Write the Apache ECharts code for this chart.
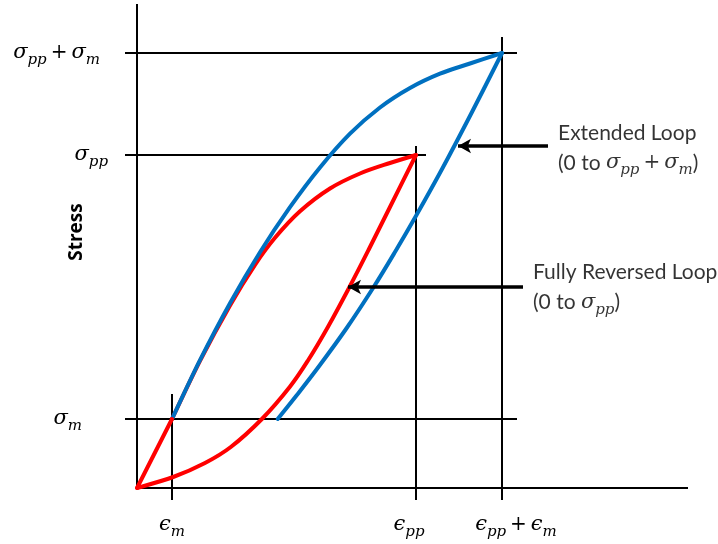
<!DOCTYPE html>
<html>
<head>
<meta charset="utf-8">
<script src="https://cdn.jsdelivr.net/npm/echarts@6/dist/echarts.min.js"></script>
<style>
  html, body { margin: 0; padding: 0; background: #fff; }
  #chart { width: 718px; height: 544px; }
</style>
</head>
<body>
<div id="chart"></div>
<script>
// Schematic stress–strain hysteresis loops (arbitrary units, origin at 0,0)

// characteristic strain levels: εm, εpp, εpp+εm
const strainLevels = [35, 279, 365];
// characteristic stress levels: σm, σpp, σpp+σm
const stressLevels = [69, 333, 435];

// initial elastic loading from 0 up to σm
const elasticPath = [[0, 0], [35, 69]];

// fully reversed loop (0 to σpp)
const reversedLoading = [
  [35, 69], [63, 127.1], [93, 182.6], [118, 223.2], [138, 250.2], [163, 276.7],
  [193, 299.5], [223, 314.5], [253, 325], [279, 333]
];
const reversedUnloading = [
  [279, 333], [253, 281], [231.5, 238], [212.5, 201], [190.9, 161], [171.3, 128],
  [152.7, 101], [124.9, 69], [93.8, 41], [68, 25], [36.2, 11], [0, 0]
];

// extended loop (0 to σpp + σm)
const extendedLoading = [
  [35, 69], [63, 127.8], [93, 184.8], [123, 235.8], [153, 280.8], [183, 320.5],
  [213, 354.3], [243, 380.5], [273, 400], [303, 414.3], [333, 424.5], [365, 435]
];
const extendedUnloading = [
  [365, 435], [334.5, 375], [305.6, 320], [279.5, 273], [258, 236], [236.7, 201],
  [209.7, 160], [182.2, 122], [159.9, 93], [140.7, 69]
];

// axis extents (strain, stress)
const axisEnds = [551, 484];

// callout arrows: [tail strain, tip strain, stress]
const extendedArrow = [411, 321, 342];
const reversedArrow = [386, 211, 201];

// ---- drawing helpers ----
const BLACK = '#000000';
const RED = '#FF0000';
const BLUE = '#0070C0';
const LEFT_OVERHANG = 12;   // reference lines poke past the axes

const serif = 'DejaVu Serif';
const sans = 'Lato';

const rich = {
  v:   { fontFamily: serif, fontStyle: 'italic', fontSize: 21, lineHeight: 30, verticalAlign: 'middle', color: BLACK },
  s:   { fontFamily: serif, fontStyle: 'italic', fontSize: 15, verticalAlign: 'bottom', color: BLACK },
  o:   { fontFamily: serif, fontSize: 20, lineHeight: 30, verticalAlign: 'middle', color: BLACK },
  t:   { fontFamily: sans, fontSize: 21, lineHeight: 30, verticalAlign: 'middle', color: BLACK }
};
// padded variants used to nudge individual tick labels
function padded(base, pad) {
  return Object.assign({}, rich[base], { padding: pad });
}
rich.sR8 = padded('s', [0, 8, 0, 0]);
rich.sR26 = padded('s', [0, 26, 0, 0]);
rich.sR14 = padded('s', [0, 14, 0, 0]);
rich.vL28 = padded('v', [0, 0, 0, 28]);

function sym(g, sub, vKey, sKey) {
  return '{' + (vKey || 'v') + '|' + g + '}{' + (sKey || 's') + '|' + sub + '}';
}
const PLUS = '{o|\u2009+\u2009}';

const stressLabel = {};
stressLabel[stressLevels[0]] = sym('σ', 'm', 'v', 'sR26');
stressLabel[stressLevels[1]] = sym('σ', 'pp');
stressLabel[stressLevels[2]] = sym('σ', 'pp') + PLUS + sym('σ', 'm', 'v', 'sR8');

const strainLabel = {};
strainLabel[strainLevels[0]] = sym('ϵ', 'm');
strainLabel[strainLevels[1]] = sym('ϵ', 'pp', 'v', 'sR14');
strainLabel[strainLevels[2]] = sym('ϵ', 'pp', 'vL28') + PLUS + sym('ϵ', 'm');

// reference line extents beyond each level
const hLineEnds = [strainLevels[2] + 15, strainLevels[1] + 10, strainLevels[2] + 15];
const vLineTops = [stressLevels[0] + 25, stressLevels[1] + 9, stressLevels[2] + 16];

function blackLine(data) {
  return {
    type: 'line', data: data, symbol: 'none', silent: true, z: 1,
    lineStyle: { color: BLACK, width: 2 }, animation: false
  };
}

const series = [];
// axes drawn from the origin
series.push(blackLine([[0, 0], [axisEnds[0], 0]]));
series.push(blackLine([[0, 0], [0, axisEnds[1]]]));
// horizontal stress references
stressLevels.forEach((s, i) => series.push(blackLine([[-LEFT_OVERHANG, s], [hLineEnds[i], s]])));
// vertical strain references
strainLevels.forEach((e, i) => series.push(blackLine([[e, -LEFT_OVERHANG], [e, vLineTops[i]]])));

// Catmull-Rom spline through the data points, mapped through the axes
function splinePath(points, api) {
  const p = points.map(d => api.coord(d));
  let d = 'M' + p[0][0] + ' ' + p[0][1];
  for (let i = 0; i < p.length - 1; i++) {
    const p0 = p[Math.max(i - 1, 0)], p1 = p[i], p2 = p[i + 1], p3 = p[Math.min(i + 2, p.length - 1)];
    const c1x = p1[0] + (p2[0] - p0[0]) / 6, c1y = p1[1] + (p2[1] - p0[1]) / 6;
    const c2x = p2[0] - (p3[0] - p1[0]) / 6, c2y = p2[1] - (p3[1] - p1[1]) / 6;
    d += ' C' + c1x + ' ' + c1y + ' ' + c2x + ' ' + c2y + ' ' + p2[0] + ' ' + p2[1];
  }
  return d;
}

function loopCurve(data, color) {
  return {
    type: 'custom', coordinateSystem: 'cartesian2d', data: data, silent: true, z: 3,
    animation: false, clip: false,
    renderItem: function (params, api) {
      if (params.dataIndex !== 0) return null;
      return {
        type: 'path',
        shape: { pathData: splinePath(data, api) },
        style: { stroke: color, fill: 'none', lineWidth: 4, lineCap: 'round', lineJoin: 'round' }
      };
    }
  };
}

series.push({
  type: 'line', data: elasticPath, symbol: 'none', silent: true, z: 3, animation: false,
  lineStyle: { color: RED, width: 4, cap: 'round' }
});
series.push(loopCurve(reversedLoading, RED));
series.push(loopCurve(reversedUnloading, RED));
series.push(loopCurve(extendedLoading, BLUE));
series.push(loopCurve(extendedUnloading, BLUE));

// callouts: arrows plus their descriptions
function arrowLine(a) {
  return [{ coord: [a[0], a[2]] }, { coord: [a[1], a[2]] }];
}
series.push({
  type: 'scatter', symbolSize: 0, silent: true, z: 5, animation: false,
  data: [
    { value: [extendedArrow[0] + 10, extendedArrow[2] - 2],
      label: { formatter: '{t|Extended Loop}\n{t|(0 to }' + sym('σ', 'pp') + PLUS + sym('σ', 'm') + '{t|)}' } },
    { value: [reversedArrow[0] + 10, reversedArrow[2] - 0.5],
      label: { formatter: '{t|Fully Reversed Loop}\n{t|(0 to }' + sym('σ', 'pp') + '{t|)}' } }
  ],
  label: { show: true, position: 'right', distance: 0, color: BLACK, rich: rich },
  markLine: {
    silent: true, animation: false,
    symbol: ['none', 'arrow'], symbolSize: [11, 13],
    label: { show: false },
    lineStyle: { type: 'solid', color: BLACK, width: 3.5 },
    data: [arrowLine(extendedArrow), arrowLine(reversedArrow)]
  }
});

const chart = echarts.init(document.getElementById('chart'), null, { renderer: 'canvas' });
chart.setOption({
  backgroundColor: '#ffffff',
  animation: false,
  grid: { left: 125, right: 30, top: 4, bottom: 44, outerBoundsMode: 'none', containLabel: false },
  xAxis: {
    type: 'value', min: -LEFT_OVERHANG, max: axisEnds[0],
    axisLine: { show: false, onZero: false }, axisTick: { show: false }, splitLine: { show: false },
    axisLabel: {
      show: true, customValues: strainLevels, margin: 10,
      formatter: v => strainLabel[v] || '', rich: rich
    }
  },
  yAxis: {
    type: 'value', min: -LEFT_OVERHANG, max: axisEnds[1],
    name: 'Stress', nameLocation: 'middle', nameGap: 39, nameRotate: 90, nameMoveOverlap: false,
    nameTextStyle: { fontFamily: 'Open Sans', fontWeight: 'bold', fontSize: 19, color: BLACK, padding: [0, 0, 0, 40] },
    axisLine: { show: false, onZero: false }, axisTick: { show: false }, splitLine: { show: false },
    axisLabel: {
      show: true, customValues: stressLevels, margin: 17,
      formatter: v => stressLabel[v] || '', rich: rich
    }
  },
  series: series
});
</script>
</body>
</html>
